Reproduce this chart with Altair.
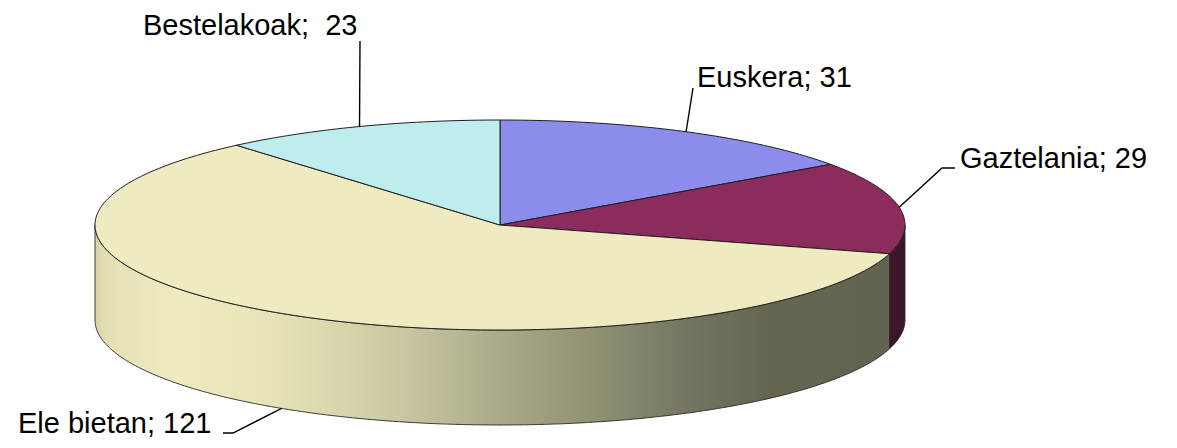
import math
import altair as alt
import pandas as pd

# ---------------- data ----------------
names = ["Euskera", "Gaztelania", "Ele bietan", "Bestelakoak"]
values = [31, 29, 121, 23]
label_texts = ["Euskera; 31", "Gaztelania; 29", "Ele bietan; 121", "Bestelakoak;\u00a0 23"]

# ---------------- styles / layout ----------------
TOP_COLORS = ["#8C8CEC", "#8B2C5C", "#EDEBBF", "#BDEEED"]
SIDE_GRADIENT = {
    "gradient": "linear", "x1": 0, "x2": 1, "y1": 0, "y2": 0,
    "stops": [
        {"offset": 0.0, "color": "#d6d4a8"},
        {"offset": 0.015, "color": "#e2e0b4"},
        {"offset": 0.10, "color": "#edebbf"},
        {"offset": 0.20, "color": "#e8e6b9"},
        {"offset": 0.30, "color": "#d9d7ad"},
        {"offset": 0.385, "color": "#c9c8a1"},
        {"offset": 0.51, "color": "#abaa89"},
        {"offset": 0.635, "color": "#8f8f72"},
        {"offset": 0.76, "color": "#727260"},
        {"offset": 0.84, "color": "#666653"},
        {"offset": 1.0, "color": "#626250"},
    ],
}
SIDE_FILLS = ["#8C8CEC", "#3D1529", SIDE_GRADIENT, "#BDEEED"]
CX, CY, RX, RY, DEPTH = 500, 225, 405, 105, 95
# leader elbow points and text anchor (left, baseline) per label
LEADER_ELBOWS = [[(693, 88)], [(942, 168), (955, 168)], [(233, 433), (223, 433)], [(360, 41)]]
TEXT_ANCHORS = [(697, 87), (960, 168), (18, 433), (143, 35)]
FONT = "Liberation Sans"
FONT_SIZE = 29

# ---------------- geometry derived from the values ----------------
total = sum(values)
starts, ends = [], []
acc = 0
for v in values:
    starts.append(2 * math.pi * acc / total)
    acc += v
    ends.append(2 * math.pi * acc / total)


def rim(phi, z=0.0):
    return CX + RX * math.sin(phi), CY - RY * math.cos(phi) + z


def arc(a, b, z=0.0):
    n = max(2, int(math.ceil(abs(b - a) / math.radians(1.0))))
    return [rim(a + (b - a) * k / n, z) for k in range(n + 1)]


X = alt.X("x:Q", scale=alt.Scale(domain=[8, 1169], nice=False, zero=False), axis=None)
Y = alt.Y("y:Q", scale=alt.Scale(domain=[8, 440], nice=False, zero=False, reverse=True), axis=None)


def frame(points):
    return pd.DataFrame({
        "i": list(range(len(points))),
        "x": [p[0] for p in points],
        "y": [p[1] for p in points],
    })


def poly_layer(points, fill, stroke="#1e1e1e", sw=1.0):
    return alt.Chart(frame(points)).mark_line(
        fill=fill, stroke=stroke, strokeWidth=sw, strokeJoin="round"
    ).encode(x=X, y=Y, order="i:Q")


layers = []

# side walls (front half only: phi in [pi/2, 3pi/2])
for s, e, fill in zip(starts, ends, SIDE_FILLS):
    a = max(s, math.pi / 2)
    b = min(e, 3 * math.pi / 2)
    if b <= a:
        continue
    top = arc(a, b)
    bottom = arc(b, a, DEPTH)
    pts = top + bottom + [top[0]]
    layers.append(poly_layer(pts, fill, stroke="#2a2a2a", sw=0.9))

# top slices
for s, e, col in zip(starts, ends, TOP_COLORS):
    pts = [(CX, CY)] + arc(s, e) + [(CX, CY)]
    layers.append(poly_layer(pts, col, stroke="#1f1f1f", sw=1.0))

# leader lines, starting at each slice's mid-angle on the rim
for s, e, elbows in zip(starts, ends, LEADER_ELBOWS):
    mid = (s + e) / 2
    z = DEPTH if math.cos(mid) < 0 else 0.0
    pts = [rim(mid, z)] + elbows
    layers.append(
        alt.Chart(frame(pts)).mark_line(color="#000000", strokeWidth=1.4)
        .encode(x=X, y=Y, order="i:Q")
    )

# labels
lab_df = pd.DataFrame({
    "label": label_texts,
    "x": [t[0] for t in TEXT_ANCHORS],
    "y": [t[1] for t in TEXT_ANCHORS],
})
layers.append(
    alt.Chart(lab_df).mark_text(
        align="left", baseline="alphabetic", font=FONT, fontSize=FONT_SIZE, color="#000000"
    ).encode(x=X, y=Y, text="label:N")
)

chart = (
    alt.layer(*layers)
    .properties(width=1161, height=432, padding=0, autosize=alt.AutoSizeParams(type="none"), background="#ffffff")
    .configure_view(stroke=None)
)

chart.save("out.html", embed_options={"renderer": "svg", "actions": False})
